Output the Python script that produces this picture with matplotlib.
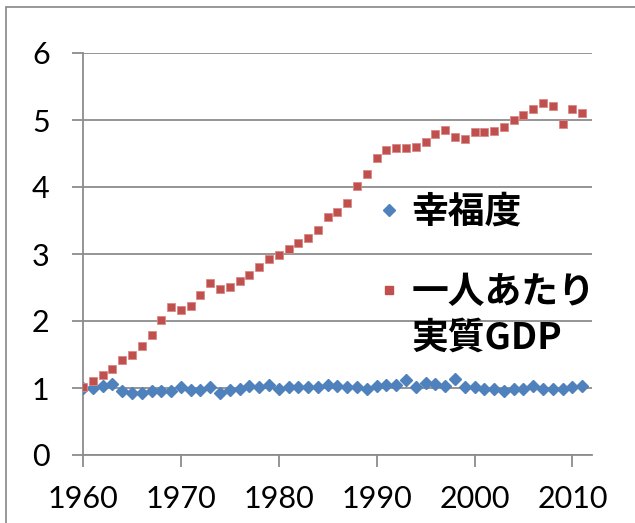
import matplotlib
matplotlib.use("Agg")
import matplotlib.pyplot as plt
from matplotlib.lines import Line2D
from matplotlib.patches import Rectangle

# data
years = list(range(1960, 2012))
happiness = [
    1.00, 1.00, 1.03, 1.06, 0.95, 0.93, 0.93, 0.95, 0.96, 0.96,
    1.02, 0.97, 0.97, 1.02, 0.93, 0.97, 0.99, 1.03, 1.02, 1.04,
    0.99, 1.01, 1.01, 1.02, 1.02, 1.05, 1.03, 1.02, 1.02, 0.99,
    1.03, 1.05, 1.05, 1.12, 1.02, 1.08, 1.06, 1.03, 1.14, 1.02,
    1.01, 0.99, 0.98, 0.96, 0.98, 0.99, 1.03, 0.99, 0.99, 0.99,
    1.02, 1.03,
]
gdp = [
    1.02, 1.11, 1.20, 1.29, 1.42, 1.49, 1.63, 1.79, 2.01, 2.21,
    2.16, 2.23, 2.39, 2.56, 2.48, 2.51, 2.60, 2.68, 2.80, 2.93,
    2.98, 3.08, 3.16, 3.24, 3.36, 3.55, 3.62, 3.76, 4.01, 4.20,
    4.43, 4.55, 4.58, 4.58, 4.60, 4.67, 4.79, 4.85, 4.74, 4.71,
    4.82, 4.82, 4.83, 4.90, 5.00, 5.07, 5.16, 5.26, 5.21, 4.94,
    5.16, 5.10,
]
labels = ["幸福度", "一人あたり", "実質GDP"]
xticks = [1960, 1970, 1980, 1990, 2000, 2010]
yticks = [0, 1, 2, 3, 4, 5, 6]

blue = "#4F81BD"
red = "#C0504D"
grey = "#8C8C8C"
tickfont = ["Lato", "DejaVu Sans"]
cjk = ["Noto Sans CJK JP", "DejaVu Sans"]

fig = plt.figure(figsize=(6.35, 5.23), dpi=100)
ax = fig.add_axes([83 / 635, 1 - 455 / 523, 509 / 635, 402 / 523])

ax.plot(years, happiness, linestyle="none", marker="D", ms=6.2,
        color=blue, mec=blue, zorder=3)
ax.plot(years, gdp, linestyle="none", marker="s", ms=6.3,
        color=red, mec="#D98A88", mew=0.6, zorder=4)

ax.set_xlim(1960, 2012)
ax.set_ylim(0, 6)
ax.set_xticks(xticks)
ax.set_yticks(yticks)
ax.grid(axis="y", color=grey, lw=1.3)
ax.set_axisbelow(True)
for s in ["top", "right"]:
    ax.spines[s].set_visible(False)
for s in ["left", "bottom"]:
    ax.spines[s].set_color(grey)
    ax.spines[s].set_linewidth(1.3)
ax.tick_params(axis="y", length=8, width=1.3, color=grey, pad=16,
               labelsize=22)
ax.tick_params(axis="x", length=8.5, width=1.3, color=grey, pad=13,
               labelsize=22)
for t in ax.get_xticklabels() + ax.get_yticklabels():
    t.set_family(tickfont)

# legend
handles = [
    Line2D([], [], linestyle="none", marker="D", ms=6.5, color=blue),
    Line2D([], [], linestyle="none", marker="s", ms=6.3, color=red),
]
leg = ax.legend(handles, labels[:2], loc="upper left",
                bbox_to_anchor=(0.58, 0.65), frameon=False,
                prop={"family": cjk, "size": 26.5, "weight": "bold"},
                handlelength=0.6, handletextpad=0.3, labelspacing=1.17,
                borderpad=0, borderaxespad=0)
ax.text(0.646, 0.29, labels[2], transform=ax.transAxes,
        family=cjk, size=26.5, weight="bold", va="center", ha="left")

fig.patches.append(Rectangle((6 / 635, -0.2), 1.5, 0.2 + 1 - 7 / 523,
                             transform=fig.transFigure, fill=False,
                             edgecolor="#868686", lw=1.2))

fig.savefig("out.png", dpi=100)
